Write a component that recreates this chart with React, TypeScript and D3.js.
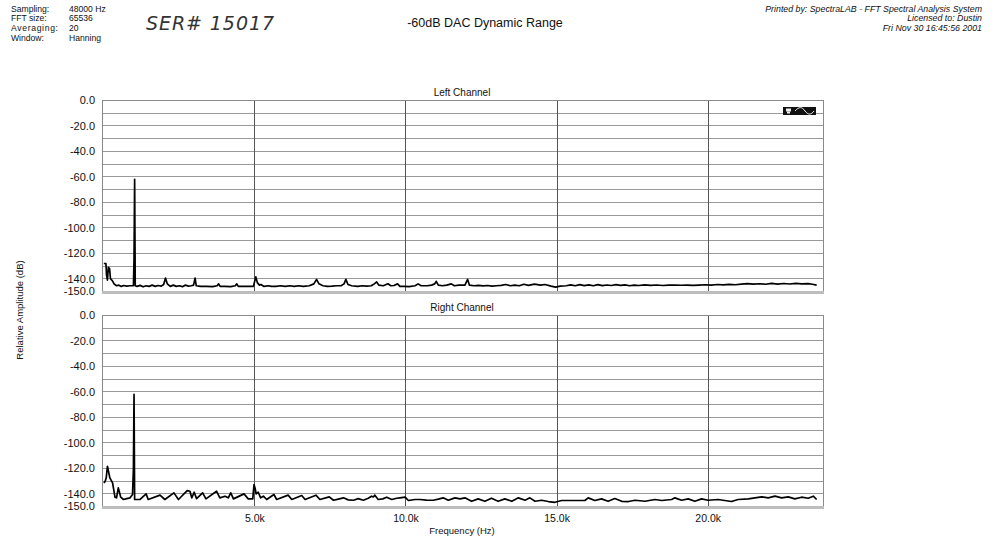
import { useMemo } from "react"
import * as d3 from "d3"

const WIDTH = 995
const HEIGHT = 550
const FONT = "'Liberation Sans', Arial, Helvetica, sans-serif"

// Measurement setup, printed top-left
const SETUP_LABELS = ["Sampling:", "FFT size:", "Averaging:", "Window:"]
const SETUP_VALUES = ["48000 Hz", "65536", "20", "Hanning"]
const PRINT_LINES = [
  "Printed by: SpectraLAB - FFT Spectral Analysis System",
  "Licensed to: Dustin",
  "Fri Nov 30 16:45:56 2001",
]

const DB_GRID = [0, -10, -20, -30, -40, -50, -60, -70, -80, -90, -100, -110, -120, -130, -140, -150]
const DB_TICKS = [0, -20, -40, -60, -80, -100, -120, -140, -150]
const FREQ_TICKS = [5000, 10000, 15000, 20000]
const FREQ_LABELS = ["5.0k", "10.0k", "15.0k", "20.0k"]

// [frequency in kHz, relative amplitude in dB]
const LEFT_CHANNEL: Array<[number, number]> = [
  [0, -128], [0.07, -128], [0.09, -137], [0.12, -141], [0.15, -131], [0.19, -132],
  [0.22, -140], [0.28, -141.5], [0.34, -144], [0.42, -145.5], [0.5, -145], [0.58, -146],
  [0.66, -145.3], [0.76, -145.8], [0.86, -145.5], [0.98, -145.5], [1.0, -125],
  [1.02, -62], [1.04, -145.5], [1.1, -146], [1.2, -145.2], [1.3, -146.3], [1.4, -145.5],
  [1.5, -146], [1.6, -145], [1.7, -146], [1.8, -145.3], [1.9, -145.8], [1.98, -144.5],
  [2.04, -139.5], [2.1, -144], [2.2, -146], [2.3, -145], [2.4, -146], [2.5, -145.5],
  [2.6, -146.2], [2.7, -145], [2.8, -145.8], [2.9, -145.5], [2.97, -145], [3.02, -139.5],
  [3.06, -145.5], [3.2, -146], [3.4, -146], [3.6, -146.2], [3.75, -145.5], [3.8, -144],
  [3.85, -146], [4.0, -146], [4.2, -146.2], [4.35, -145.5], [4.4, -144], [4.45, -146],
  [4.6, -146], [4.8, -146], [4.95, -146], [5.03, -138.5], [5.08, -143], [5.15, -145],
  [5.2, -144.5], [5.3, -146], [5.45, -145.5], [5.55, -146], [5.7, -146], [5.85, -145.5],
  [6.0, -146], [6.15, -145.5], [6.3, -146], [6.45, -145.5], [6.6, -146], [6.8, -145.5],
  [6.95, -144], [7.04, -140.5], [7.12, -144], [7.25, -145.5], [7.4, -146], [7.55, -145.8],
  [7.7, -145.5], [7.85, -145.5], [7.95, -144], [8.01, -140.5], [8.08, -144.5], [8.2, -145.5],
  [8.4, -146], [8.55, -145.5], [8.7, -145.8], [8.85, -145.5], [8.95, -144], [9.03, -142.5],
  [9.1, -145], [9.25, -145.5], [9.4, -143.9], [9.5, -145.5], [9.6, -145.3], [9.72, -144],
  [9.8, -146], [9.95, -146], [10.1, -146.2], [10.3, -145.5], [10.4, -144], [10.5, -145.5],
  [10.7, -145.5], [10.85, -145], [10.95, -144], [11.0, -142], [11.07, -145], [11.2, -145.5],
  [11.35, -145], [11.5, -144], [11.6, -145.5], [11.75, -145], [11.95, -145], [12.04, -140.5],
  [12.1, -145], [12.25, -145.5], [12.4, -145.2], [12.55, -145.6], [12.7, -145.3],
  [12.85, -145.8], [13.0, -145.5], [13.15, -145.2], [13.3, -144.5], [13.45, -145.5],
  [13.6, -145], [13.75, -145.5], [13.9, -144.3], [14.05, -145.2], [14.25, -144.2],
  [14.45, -145], [14.6, -144.5], [14.8, -145.8], [14.95, -146.5], [15.1, -145.8],
  [15.3, -145.5], [15.45, -144.8], [15.6, -145.5], [15.75, -144.6], [15.9, -145.4],
  [16.05, -144.8], [16.2, -145.5], [16.35, -144.6], [16.5, -145.4], [16.65, -144.9],
  [16.8, -145.3], [16.95, -144.6], [17.1, -145.2], [17.25, -144.8], [17.4, -145.5],
  [17.55, -145], [17.7, -145.3], [17.9, -144.8], [18.1, -145.2], [18.3, -144.9],
  [18.5, -145.3], [18.7, -145], [18.9, -145], [19.1, -145.1], [19.3, -145], [19.5, -145.2],
  [19.7, -145], [19.9, -144.7], [20.1, -145], [20.3, -144.5], [20.5, -144.8], [20.7, -144.4],
  [20.9, -144.7], [21.1, -144.2], [21.3, -143.8], [21.5, -144.2], [21.7, -143.9],
  [21.9, -144.3], [22.1, -143.6], [22.3, -144.2], [22.5, -143.7], [22.7, -144.1],
  [22.9, -143.6], [23.1, -144], [23.3, -143.8], [23.45, -144.3], [23.59, -145],
]

const RIGHT_CHANNEL: Array<[number, number]> = [
  [0, -131.4], [0.04, -130.5], [0.08, -127.5], [0.12, -118.4], [0.2, -127.5], [0.29, -131.4],
  [0.37, -142.7], [0.42, -143.2], [0.48, -135.4], [0.56, -142.7], [0.65, -144.5],
  [0.76, -143.8], [0.87, -143.2], [0.95, -140.6], [0.98, -120], [1.0, -62], [1.02, -144.5],
  [1.2, -144.5], [1.4, -140.1], [1.47, -144.5], [1.86, -141.1], [2.02, -144.5],
  [2.32, -139.3], [2.47, -144.5], [2.76, -137.5], [2.85, -138], [2.91, -143.2],
  [2.99, -138.8], [3.07, -143.8], [3.27, -139.3], [3.38, -144], [3.73, -138], [3.84, -143.2],
  [4.01, -141.9], [4.12, -143.2], [4.2, -139.3], [4.29, -144], [4.64, -140.1], [4.78, -144],
  [4.93, -144], [4.97, -132.8], [5.01, -136], [5.04, -140.1], [5.11, -138.8], [5.19, -143.2],
  [5.28, -141.9], [5.39, -144.5], [5.63, -140.6], [5.72, -144.5], [6.1, -141.1],
  [6.22, -144.5], [6.55, -141.4], [6.66, -144.5], [7.02, -141.1], [7.15, -144.5],
  [7.46, -142.4], [7.6, -145.1], [7.76, -144.2], [7.93, -143.2], [8.09, -144.8],
  [8.26, -145.1], [8.42, -143.8], [8.59, -145.1], [8.75, -143.5], [8.86, -141.9],
  [8.92, -142.5], [8.97, -141.1], [9.08, -144.5], [9.23, -144], [9.36, -142.7], [9.53, -144.5],
  [9.69, -143.5], [9.8, -143.2], [9.97, -142.7], [10.08, -145.3], [10.3, -144.5],
  [10.46, -144.5], [10.68, -145], [10.9, -145.1], [11.07, -144.2], [11.23, -143.2],
  [11.4, -145.1], [11.62, -143.2], [11.79, -144], [11.95, -143.2], [12.17, -145.9],
  [12.39, -144], [12.61, -145.9], [12.83, -143.5], [13.05, -145.9], [13.27, -144],
  [13.5, -145.9], [13.72, -143.2], [13.94, -145.1], [14.1, -143.2], [14.27, -145.9],
  [14.49, -145.1], [14.71, -146.1], [14.93, -146.7], [15.15, -145.3], [15.48, -145.3],
  [15.92, -145.3], [16.03, -143.2], [16.25, -145.3], [16.47, -144], [16.69, -145.9],
  [16.91, -143.7], [17.14, -145.9], [17.36, -146.1], [17.58, -145.1], [17.91, -145.9],
  [18.24, -144.5], [18.46, -145.3], [18.79, -144.5], [18.9, -143.2], [19.12, -145.1],
  [19.34, -144], [19.56, -145.9], [19.78, -144], [20.0, -145.1], [20.33, -144.5],
  [20.55, -145.3], [20.77, -146.1], [20.99, -144.5], [21.33, -144], [21.55, -143.2],
  [21.77, -142.4], [21.99, -143.2], [22.21, -141.9], [22.43, -143.2], [22.65, -142.4],
  [22.87, -144], [23.09, -142.7], [23.31, -143.5], [23.48, -141.9], [23.59, -144.5],
]

const PLOT_LEFT = 102
const PLOT_RIGHT = 823

export default function App() {
  const x = useMemo(
    () => d3.scaleLinear().domain([-60, 23800]).range([PLOT_LEFT, PLOT_RIGHT]),
    []
  )

  return (
    <svg
      width={WIDTH}
      height={HEIGHT}
      viewBox={`0 0 ${WIDTH} ${HEIGHT}`}
      style={{ position: "absolute", left: 0, top: 0, background: "#fff", fontFamily: FONT }}
    >
      <rect width={WIDTH} height={HEIGHT} fill="#fff" />

      {/* setup block */}
      <g fontSize={8.6} fill="#111">
        {SETUP_LABELS.map((s, i) => (
          <text key={s} x={11} y={11.5 + i * 9.8} textLength={i === 2 ? 47 : undefined}>
            {s}
          </text>
        ))}
        {SETUP_VALUES.map((s, i) => (
          <text key={s} x={69} y={11.5 + i * 9.8}>
            {s}
          </text>
        ))}
      </g>

      {/* handwritten serial */}
      <text
        x={146}
        y={30}
        fontFamily="'DejaVu Sans', sans-serif"
        fontStyle="italic"
        fontWeight={200}
        fontSize={19}
        fill="#333"
        textLength={128}
        lengthAdjust="spacing"
      >
        SER# 15017
      </text>

      <text x={485} y={27} textAnchor="middle" fontSize={12.5} fill="#111">
        -60dB DAC Dynamic Range
      </text>

      <g fontSize={8.8} fontStyle="italic" fill="#111" textAnchor="end">
        {PRINT_LINES.map((s, i) => (
          <text key={s} x={982} y={11.5 + i * 9.8}>
            {s}
          </text>
        ))}
      </g>

      <Panel title="Left Channel" data={LEFT_CHANNEL} x={x} top={100.5} bottom={291.5} icon />
      <Panel title="Right Channel" data={RIGHT_CHANNEL} x={x} top={315.5} bottom={506.5} />

      {/* frequency axis */}
      <g fontSize={10.5} fill="#111" textAnchor="middle">
        {FREQ_TICKS.map((f, i) => (
          <text key={f} x={x(f)} y={522}>
            {FREQ_LABELS[i]}
          </text>
        ))}
      </g>
      <text x={462} y={534} textAnchor="middle" fontSize={9.5} fill="#111">
        Frequency (Hz)
      </text>
      <text
        transform="translate(23,310) rotate(-90)"
        textAnchor="middle"
        fontSize={9.5}
        fill="#111"
      >
        Relative Amplitude (dB)
      </text>
    </svg>
  )
}

function Panel({
  title,
  data,
  x,
  top,
  bottom,
  icon = false,
}: {
  title: string
  data: Array<[number, number]>
  x: d3.ScaleLinear<number, number>
  top: number
  bottom: number
  icon?: boolean
}) {
  const y = d3.scaleLinear().domain([-150, 0]).range([bottom, top])
  const line = d3
    .line<[number, number]>()
    .x((d) => x(d[0] * 1000))
    .y((d) => y(d[1]))
  const snap = (v: number) => Math.round(v - 0.5) + 0.5

  return (
    <g>
      <text x={462} y={top - 5} textAnchor="middle" fontSize={10} fill="#111">
        {title}
      </text>

      {/* horizontal grid every 10 dB */}
      {DB_GRID.map((d) => (
        <line
          key={d}
          x1={PLOT_LEFT}
          x2={PLOT_RIGHT}
          y1={snap(y(d))}
          y2={snap(y(d))}
          stroke="#9a9a9a"
          strokeWidth={1}
        />
      ))}
      {/* vertical grid at the labelled frequencies */}
      {FREQ_TICKS.map((f) => (
        <line
          key={f}
          x1={snap(x(f))}
          x2={snap(x(f))}
          y1={top}
          y2={bottom}
          stroke="#555"
          strokeWidth={1}
        />
      ))}
      <rect
        x={PLOT_LEFT + 0.5}
        y={top}
        width={PLOT_RIGHT - PLOT_LEFT}
        height={bottom - top}
        fill="none"
        stroke="#8a8a8a"
      />
      <line
        x1={PLOT_LEFT}
        x2={PLOT_RIGHT + 1}
        y1={bottom + 1}
        y2={bottom + 1}
        stroke="#bdbdbd"
        strokeWidth={3}
      />

      <g fontSize={11} fill="#111" textAnchor="end">
        {DB_TICKS.map((d) => (
          <text key={d} x={95} y={y(d)} dy="0.36em">
            {d.toFixed(1)}
          </text>
        ))}
      </g>

      <path
        d={line(data) ?? undefined}
        fill="none"
        stroke="#000"
        strokeWidth={1.7}
        strokeLinejoin="round"
      />

      {icon && (
        <g>
          <rect x={783} y={107} width={33} height={8} fill="#111" />
          <rect x={786} y={108.5} width={5} height={3} fill="#eee" />
          <rect x={787} y={111.5} width={3} height={2} fill="#eee" />
          <path
            d="M795,111 C799,106.5 802,106.5 805,111 C808,115 811,115 814,111"
            fill="none"
            stroke="#eee"
            strokeWidth={1}
          />
        </g>
      )}
    </g>
  )
}
